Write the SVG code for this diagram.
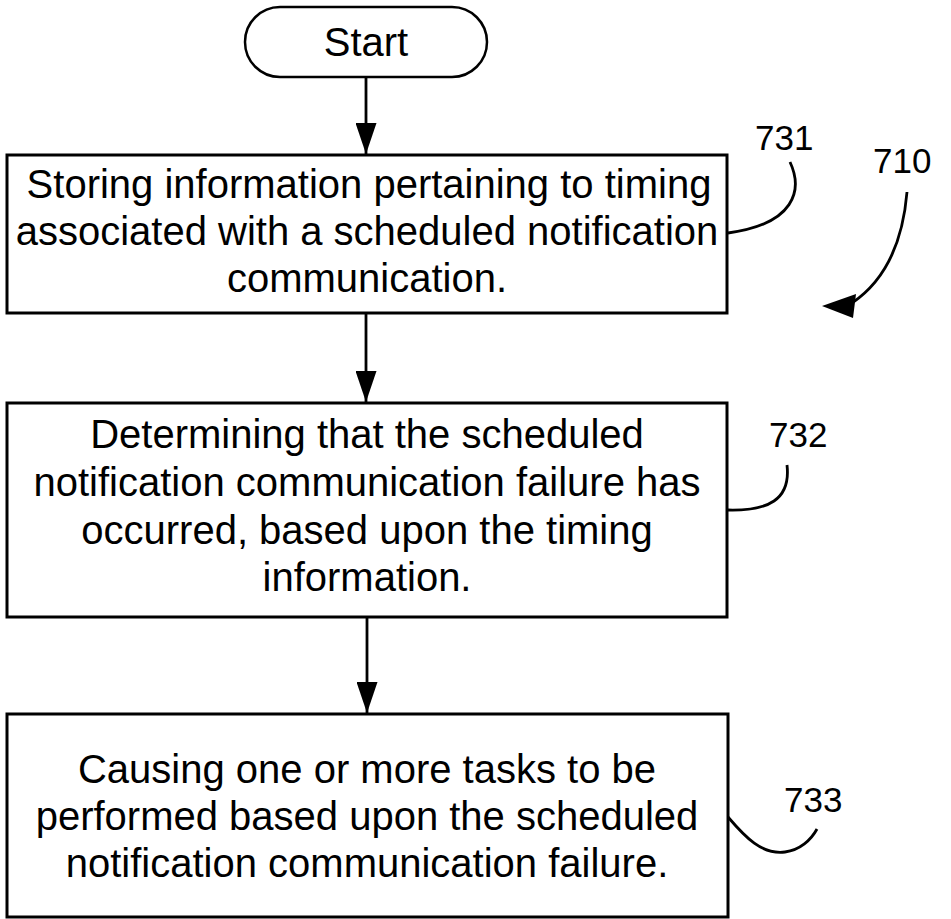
<svg xmlns="http://www.w3.org/2000/svg" width="951" height="919" viewBox="0 0 951 919">
<style>
.box{fill:#fff;stroke:#000;stroke-width:3}
.t{font-family:"Liberation Sans",Arial,sans-serif;font-size:40px;fill:#000;text-anchor:middle}
.lbl{font-family:"Liberation Sans",Arial,sans-serif;font-size:35px;fill:#000}
.ln{fill:none;stroke:#000;stroke-width:2.8}
</style>
<defs>
<marker id="ah" viewBox="0 0 10 10" refX="10" refY="5" markerWidth="31" markerHeight="21" markerUnits="userSpaceOnUse" orient="auto" preserveAspectRatio="none">
<path d="M0,0 L10,5 L0,10 Z" fill="#000"/>
</marker>
</defs>
<rect width="951" height="919" fill="#fff"/>
<g id="connectors">
<line class="ln" x1="366" y1="77" x2="366" y2="154" marker-end="url(#ah)"/>
<line class="ln" x1="366" y1="313" x2="366" y2="402" marker-end="url(#ah)"/>
<line class="ln" x1="367" y1="617" x2="367" y2="713" marker-end="url(#ah)"/>
</g>
<g id="start">
<rect x="245" y="7" width="242" height="70" rx="35" ry="35" fill="#fff" stroke="#000" stroke-width="2.5"/>
<text class="t" x="366" y="56">Start</text>
</g>
<g id="n731">
<rect class="box" x="7" y="155" width="720" height="158"/>
<text class="t" x="369" y="198">Storing information pertaining to timing</text>
<text class="t" x="367" y="245">associated with a scheduled notification</text>
<text class="t" x="367" y="292">communication.</text>
</g>
<g id="n732">
<rect class="box" x="7" y="403" width="720" height="214"/>
<text class="t" x="367" y="448">Determining that the scheduled</text>
<text class="t" x="367" y="496">notification communication failure has</text>
<text class="t" x="367" y="544">occurred, based upon the timing</text>
<text class="t" x="367" y="591">information.</text>
</g>
<g id="n733">
<rect class="box" x="7" y="714" width="721" height="203"/>
<text class="t" x="367" y="783">Causing one or more tasks to be</text>
<text class="t" x="367" y="830">performed based upon the scheduled</text>
<text class="t" x="367" y="877">notification communication failure.</text>
</g>
<g id="labels">
<text class="lbl" x="755" y="150">731</text>
<path class="ln" d="M790 162 C803 190 795 224 728 233"/>
<text class="lbl" x="873" y="173">710</text>
<path class="ln" d="M907 192 C903 240 886 280 852 303"/>
<path d="M822 306 L856 294 L853 318 Z" fill="#000"/>
<text class="lbl" x="769" y="447">732</text>
<path class="ln" d="M787 465 C791 500 768 511 728 510"/>
<text class="lbl" x="784" y="812">733</text>
<path class="ln" d="M728 817 C745 837 762 855 785 852 C800 850 811 840 817 829"/>
</g>
</svg>
